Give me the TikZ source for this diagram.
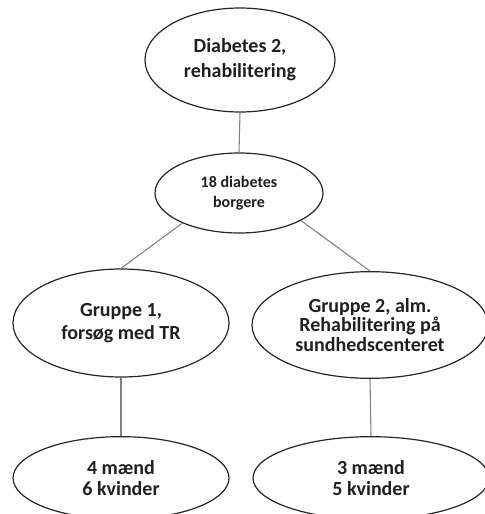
\documentclass[tikz,border=0pt]{standalone}
\usepackage{fontspec}
\setmainfont{Carlito}
\usetikzlibrary{shapes.geometric}
\begin{document}
\begin{tikzpicture}[x=0.75pt,y=-0.75pt,
  oval/.style={ellipse,draw=black!85,line width=0.9pt,inner sep=0pt,
    text=black!88,align=center,font=\bfseries},
  link/.style={draw=black!50,line width=0.8pt}]
\useasboundingbox (0,0) rectangle (485,514);
\node[oval,minimum width=142.5pt,minimum height=78pt,
  font=\bfseries\fontsize{15}{18.8}\selectfont] (top) at (240,60)
  {Diabetes 2,\\rehabilitering};
\node[oval,minimum width=126pt,minimum height=60pt,
  font=\bfseries\fontsize{12}{15}\selectfont] (mid) at (239,193)
  {18 diabetes\\borgere};
\node[oval,minimum width=162pt,minimum height=81pt,
  font=\bfseries\fontsize{15}{16.8}\selectfont] (gl) at (121,323)
  {Gruppe 1,\\forsøg med TR};
\node[oval,minimum width=177pt,minimum height=80pt,
  font=\bfseries\fontsize{15}{14.6}\selectfont] (gr) at (370,325)
  {Gruppe 2, alm.\\Rehabilitering på\\sundhedscenteret};
\node[oval,minimum width=162pt,minimum height=62pt,
  font=\bfseries\fontsize{15}{16.3}\selectfont] (bl) at (121,478)
  {4 mænd\\6 kvinder};
\node[oval,minimum width=177pt,minimum height=62pt,
  font=\bfseries\fontsize{15}{16.3}\selectfont] (br) at (371,478)
  {3 mænd\\5 kvinder};
\draw[link] (top.south) -- (mid.north);
\draw[link] (mid.208) -- (gl.north);
\draw[link] (mid.336) -- (gr.north);
\draw[link] (gl.south) -- (bl.north);
\draw[link] (gr.south) -- (br.north);
\end{tikzpicture}
\end{document}
